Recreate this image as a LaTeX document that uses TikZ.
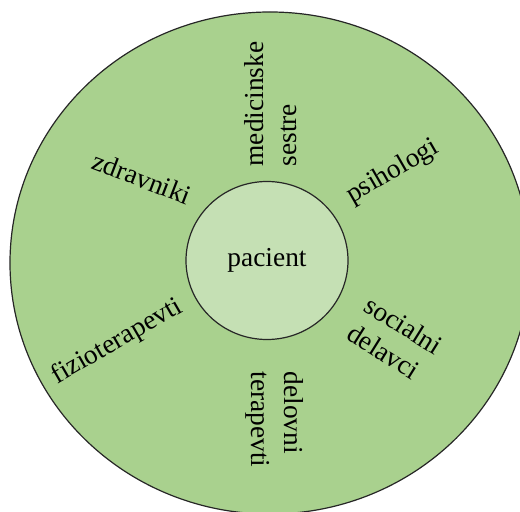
\documentclass[tikz,border=0pt]{standalone}
\usepackage{fontspec}
\setmainfont{Liberation Serif}
\usetikzlibrary{shapes.geometric}
\definecolor{outergreen}{HTML}{A9D18E}
\definecolor{innergreen}{HTML}{C5E0B4}
\begin{document}
\begin{tikzpicture}[x=1bp,y=-1bp,
  lbl/.style={font=\fontsize{27.5}{33}\selectfont, inner sep=0pt, align=left},
  ring/.style={ellipse, draw=black!85, line width=1.2bp, inner sep=0pt}]
\useasboundingbox (0,0) rectangle (520,512);
\clip (0,0) rectangle (520,512);
\node[ring, fill=outergreen, minimum width=520bp, minimum height=502bp] (team) at (270,263) {};
\node[ring, fill=innergreen, minimum width=162bp, minimum height=158bp,
      font=\fontsize{27.5}{33}\selectfont] (pacient) at (267,260.5) {pacient};
\node[lbl, rotate=90] (sestre) at (271,104) {medicinske\\sestre};
\node[lbl, rotate=-21] (zdravniki) at (142,178) {zdravniki};
\node[lbl, rotate=30] (psihologi) at (393,172) {psihologi};
\node[lbl, rotate=30] (fizio) at (117,342) {fizioterapevti};
\node[lbl, rotate=-32] (socialni) at (395,339) {socialni\\delavci};
\node[lbl, rotate=-90] (delovni) at (274.5,419.5) {delovni\\terapevti};
\end{tikzpicture}
\end{document}
